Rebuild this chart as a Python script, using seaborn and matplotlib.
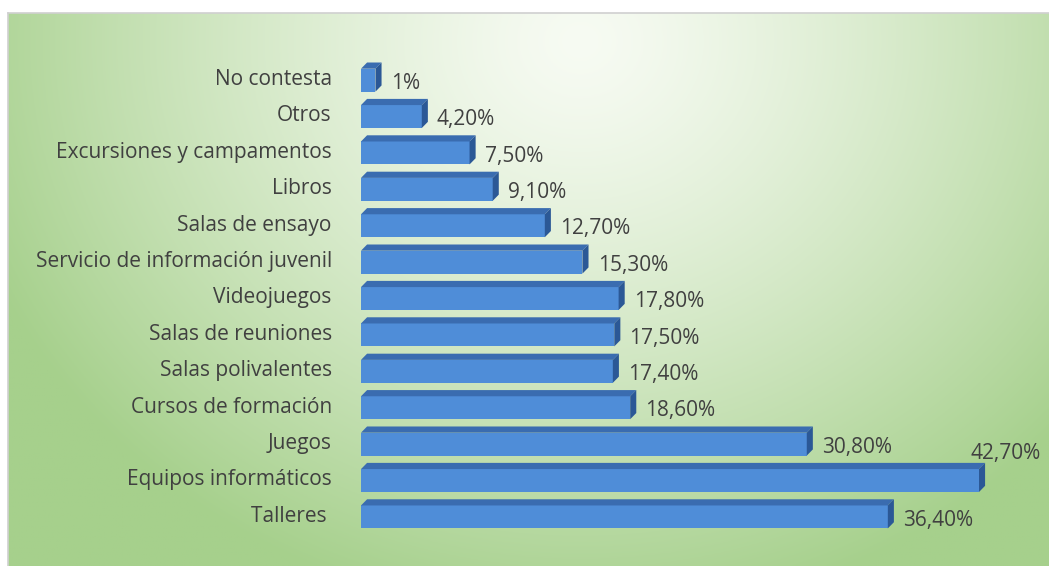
import numpy as np
import pandas as pd
import matplotlib
matplotlib.use("Agg")
import matplotlib.pyplot as plt
from matplotlib.patches import Polygon
import seaborn as sns

# data, top to bottom as in the chart
categorias = ["No contesta", "Otros", "Excursiones y campamentos", "Libros",
              "Salas de ensayo", "Servicio de información juvenil", "Videojuegos",
              "Salas de reuniones", "Salas polivalentes", "Cursos de formación",
              "Juegos", "Equipos informáticos", "Talleres "]
valores = [1.0, 4.2, 7.5, 9.1, 12.7, 15.3, 17.8, 17.5, 17.4, 18.6, 30.8, 42.7, 36.4]
etiquetas = ["1%", "4,20%", "7,50%", "9,10%", "12,70%", "15,30%", "17,80%",
             "17,50%", "17,40%", "18,60%", "30,80%", "42,70%", "36,40%"]

df = pd.DataFrame({"cat": categorias, "val": valores})

sns.set_style("white")
plt.rcParams["font.family"] = ["Open Sans", "DejaVu Sans"]

fig = plt.figure(figsize=(10.49, 5.66), dpi=100)

# green radial background panel
bg = fig.add_axes([8 / 1049, 0, 1 - 8 / 1049, 1 - 13 / 566], zorder=-5)
ny, nx = 300, 600
yy, xx = np.mgrid[0:1:ny * 1j, 0:1:nx * 1j]
d = np.sqrt(((xx - 0.55) / 0.62) ** 2 + ((yy - 0.05) / 1.05) ** 2)
t = np.clip(d, 0, 1) ** 1.3
light = np.array([247, 251, 243]) / 255
green = np.array([166, 208, 140]) / 255
img = light[None, None, :] * (1 - t[..., None]) + green[None, None, :] * t[..., None]
bg.imshow(img, aspect="auto", extent=(0, 1, 1, 0))
bg.set_xticks([])
bg.set_yticks([])
for s in ["right", "bottom"]:
    bg.spines[s].set_visible(False)
for s in ["top", "left"]:
    bg.spines[s].set_color("#d0d0d0")
    bg.spines[s].set_linewidth(1.2)

ax = fig.add_axes([361 / 1049, 0.060, 1034 / 1049 - 361 / 1049, 0.896 - 0.060])
ax.set_facecolor("none")
sns.barplot(data=df, x="val", y="cat", orient="h", color="#4f8dd8",
            width=0.8, saturation=1, ax=ax)

dx, dy = 0.42, 0.17
for p in ax.patches:
    w = p.get_width()
    y0 = p.get_y()
    h = p.get_height()
    y1 = y0 + h
    p.set_y(y0 + dy)
    p.set_height(h - dy)
    p.set_edgecolor("none")
    top = Polygon([(dx, y0), (w + dx, y0), (w, y0 + dy), (0, y0 + dy)],
                  closed=True, facecolor="#3a6cb0", edgecolor="none")
    side = Polygon([(w, y0 + dy), (w + dx, y0), (w + dx, y1 - dy), (w, y1)],
                   closed=True, facecolor="#2b5896", edgecolor="none")
    ax.add_patch(top)
    ax.add_patch(side)

vmax = max(valores)
for i, (v, lab) in enumerate(zip(valores, etiquetas)):
    if v == vmax:
        ax.text(v - 0.6, i - 0.65, lab, ha="left", va="center",
                fontsize=15, color="#404040")
    else:
        ax.text(v + 1.05, i + 0.17, lab, ha="left", va="center",
                fontsize=15, color="#404040")

ax.set_xlim(0, 46.5)
ax.set_ylim(12.5, -0.5)
ax.set_xlabel("")
ax.set_ylabel("")
ax.set_xticks([])
ax.tick_params(axis="y", length=0, pad=21, labelsize=15, labelcolor="#404040")
sns.despine(ax=ax, left=True, bottom=True)

fig.savefig("out.png", dpi=100)
